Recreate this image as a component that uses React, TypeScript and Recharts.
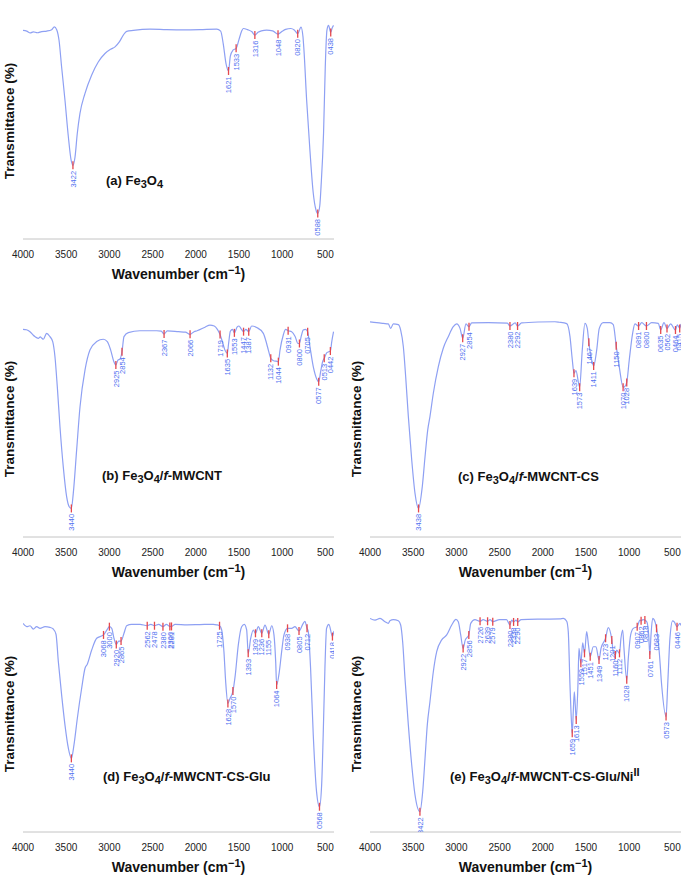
import React from 'react';
import { ComposedChart, Line, Scatter, XAxis, YAxis } from 'recharts';

const FONT = '"Liberation Sans", Arial, Helvetica, sans-serif';
const LINE = '#8ea0f3';
const MARK = '#e5484d';
const PEAK_TEXT = '#5070f0';
const AXIS = '#c4c4c4';

type Pt = [number, number];

const xTicks = [4000, 3500, 3000, 2500, 2000, 1500, 1000, 500];

// (a) Fe3O4
const specA: Pt[] = [
  [4000, 88.4], [3957, 88.1], [3916, 87.3], [3881, 87.8], [3834, 87.4], [3784, 87.9], [3726, 88.1],
  [3668, 88.7], [3638, 89.9], [3610, 88.7], [3583, 84.2], [3553, 72.9], [3514, 58.8], [3475, 43.3],
  [3444, 33.6], [3422, 31.2], [3398, 34.7], [3372, 44.6], [3341, 53.1], [3283, 61.6], [3206, 69.4],
  [3129, 75.0], [3051, 78.6], [2985, 80.4], [2935, 81.4], [2885, 83.5], [2839, 86.4], [2800, 88.0],
  [2723, 88.4], [2530, 88.9], [2337, 88.7], [2144, 88.6], [1951, 88.7], [1758, 88.9], [1712, 88.1],
  [1682, 82.7], [1650, 74.3], [1621, 71.2], [1600, 77.5], [1570, 80.0], [1533, 80.8], [1500, 84.5],
  [1470, 88.0], [1450, 89.2], [1400, 88.7], [1350, 87.8], [1316, 86.4], [1280, 87.6], [1240, 88.2],
  [1180, 88.5], [1110, 88.2], [1048, 86.8], [1000, 88.0], [960, 88.8], [900, 89.2], [860, 88.6],
  [820, 87.0], [782, 89.8], [760, 86.0], [748, 80.2], [717, 59.0], [679, 37.7], [640, 19.4],
  [610, 12.5], [588, 10.8], [565, 14.0], [550, 22.2], [521, 44.8], [501, 73.0], [482, 88.4],
  [463, 90.5], [438, 87.5], [420, 89.5], [405, 90.5],
];
const peaksA = [3422, 1621, 1533, 1316, 1048, 820, 588, 438];

// (b) Fe3O4/f-MWCNT
const specB: Pt[] = [
  [4000, 88.0], [3960, 87.8], [3919, 87.0], [3880, 85.5], [3861, 84.9], [3823, 84.2], [3800, 84.8],
  [3784, 84.3], [3765, 83.8], [3726, 86.3], [3688, 84.9], [3656, 82.8], [3630, 76.4], [3603, 63.7],
  [3572, 46.7], [3534, 29.8], [3495, 17.1], [3465, 12.8], [3440, 12.1], [3418, 18.5], [3379, 36.9],
  [3340, 55.2], [3282, 70.8], [3225, 79.2], [3147, 82.8], [3070, 83.8], [3024, 82.8], [2985, 79.2],
  [2950, 74.5], [2925, 72.9], [2900, 75.0], [2880, 75.3], [2854, 78.5], [2831, 84.9], [2781, 86.6],
  [2646, 87.4], [2453, 87.4], [2400, 87.2], [2367, 86.0], [2330, 87.3], [2200, 87.0], [2120, 86.8],
  [2066, 85.9], [2020, 87.0], [1985, 87.4], [1893, 88.9], [1836, 89.8], [1786, 89.4], [1750, 88.0],
  [1719, 85.8], [1690, 82.5], [1660, 79.0], [1635, 77.8], [1620, 82.0], [1600, 87.2], [1575, 88.0],
  [1553, 86.5], [1520, 89.0], [1500, 89.4], [1475, 88.2], [1447, 87.0], [1420, 88.0], [1387, 87.0],
  [1353, 89.4], [1295, 88.8], [1218, 86.3], [1180, 82.0], [1160, 79.2], [1132, 75.7], [1100, 74.7],
  [1070, 74.5], [1044, 74.3], [1025, 79.2], [987, 85.6], [960, 88.0], [931, 87.4], [890, 87.0],
  [850, 85.0], [817, 82.0], [800, 82.0], [780, 85.0], [756, 87.7], [730, 88.0], [705, 87.0],
  [678, 80.6], [640, 72.2], [600, 67.0], [577, 65.8], [555, 70.0], [530, 74.5], [513, 75.7],
  [485, 78.0], [460, 78.5], [442, 78.8], [425, 83.0], [405, 87.0],
];
const peaksB = [3440, 2925, 2854, 2367, 2066, 1719, 1635, 1553, 1447, 1387, 1132, 1044, 931, 800, 705, 577, 513, 442];

// (c) Fe3O4/f-MWCNT-CS
const specC: Pt[] = [
  [4000, 91.2], [3923, 90.8], [3846, 90.5], [3788, 90.3], [3761, 88.4], [3730, 90.3], [3672, 90.0],
  [3645, 87.7], [3614, 80.6], [3587, 67.9], [3556, 51.0], [3517, 32.6], [3479, 18.5], [3438, 12.1],
  [3395, 21.3], [3363, 34.0], [3332, 45.3], [3306, 51.0], [3267, 60.9], [3209, 72.2], [3152, 80.0],
  [3094, 84.9], [3036, 89.1], [2997, 90.3], [2958, 88.4], [2927, 84.2], [2889, 90.3], [2854, 89.1],
  [2823, 90.7], [2630, 90.8], [2410, 90.6], [2380, 89.4], [2320, 90.7], [2292, 89.4], [2245, 90.7],
  [2050, 91.1], [1860, 91.2], [1810, 91.0], [1723, 90.4], [1685, 84.9], [1658, 75.0], [1639, 69.4],
  [1616, 70.5], [1573, 63.5], [1543, 79.2], [1512, 90.5], [1485, 88.4], [1467, 82.5], [1440, 76.0],
  [1411, 72.5], [1376, 79.2], [1346, 88.4], [1300, 90.8], [1222, 90.8], [1184, 90.0], [1150, 81.0],
  [1115, 72.2], [1070, 63.5], [1050, 63.8], [1028, 65.5], [999, 75.0], [960, 86.3], [933, 90.3],
  [891, 89.4], [855, 90.8], [800, 89.4], [740, 90.8], [663, 90.5], [635, 87.7], [597, 90.8],
  [562, 88.4], [520, 90.3], [464, 87.7], [443, 89.9], [415, 88.4], [400, 90.3],
];
const peaksC = [3438, 2927, 2854, 2380, 2292, 1639, 1573, 1467, 1411, 1150, 1070, 1028, 891, 800, 635, 562, 464, 415];

// (d) Fe3O4/f-MWCNT-CS-Glu
const specD: Pt[] = [
  [4000, 88.4], [3957, 87.0], [3919, 87.4], [3881, 86.0], [3842, 87.0], [3803, 86.3], [3745, 87.0],
  [3688, 86.7], [3649, 86.0], [3618, 83.8], [3591, 72.2], [3553, 58.1], [3514, 45.3], [3475, 35.5],
  [3440, 31.2], [3410, 36.9], [3371, 48.2], [3321, 60.9], [3282, 69.4], [3256, 71.1], [3205, 77.1],
  [3147, 82.1], [3068, 83.5], [3030, 85.5], [3000, 87.0], [2973, 86.3], [2947, 82.1], [2920, 79.5],
  [2892, 80.9], [2865, 80.9], [2831, 84.2], [2800, 87.4], [2742, 88.0], [2645, 88.0], [2562, 87.4],
  [2520, 88.0], [2478, 87.4], [2430, 88.0], [2380, 87.0], [2340, 88.0], [2300, 87.1], [2281, 87.1],
  [2240, 88.0], [2100, 87.8], [1951, 87.9], [1797, 88.0], [1760, 87.8], [1725, 87.4], [1700, 85.6],
  [1674, 76.4], [1654, 63.7], [1628, 54.5], [1604, 56.6], [1570, 59.7], [1543, 66.5], [1508, 79.2],
  [1469, 87.0], [1438, 88.0], [1411, 85.6], [1393, 75.7], [1364, 82.1], [1334, 85.6], [1309, 84.2],
  [1276, 87.0], [1236, 84.2], [1199, 87.7], [1155, 83.8], [1121, 87.4], [1095, 83.5], [1075, 72.2],
  [1064, 62.3], [1033, 67.9], [1006, 76.4], [979, 83.5], [938, 86.3], [890, 86.3], [852, 87.0],
  [805, 85.2], [756, 88.4], [737, 89.3], [712, 86.3], [699, 85.2], [671, 69.4], [640, 41.1],
  [602, 17.1], [568, 10.7], [543, 19.9], [525, 41.1], [505, 69.4], [486, 86.3], [459, 88.0],
  [418, 82.8], [400, 85.2],
];
const peaksD = [3440, 3068, 3000, 2920, 2865, 2562, 2478, 2380, 2300, 2281, 1725, 1628, 1570, 1393, 1309, 1236, 1155, 1064, 938, 805, 712, 568, 418];

// (e) Fe3O4/f-MWCNT-CS-Glu/NiII
const specE: Pt[] = [
  [4000, 90.5], [3942, 89.8], [3884, 90.5], [3826, 89.1], [3788, 88.4], [3769, 89.5], [3730, 90.0],
  [3672, 89.5], [3645, 87.7], [3622, 80.6], [3595, 65.1], [3556, 45.3], [3517, 28.4], [3479, 15.7],
  [3422, 8.6], [3390, 17.1], [3363, 31.2], [3337, 45.3], [3306, 55.2], [3267, 67.9], [3228, 76.4],
  [3170, 81.4], [3112, 83.5], [3054, 87.7], [3005, 90.1], [2978, 89.1], [2950, 83.5], [2922, 77.8],
  [2897, 81.4], [2856, 83.5], [2834, 88.4], [2785, 90.0], [2726, 89.3], [2690, 90.0], [2639, 89.3],
  [2610, 90.0], [2579, 89.1], [2500, 90.0], [2420, 90.0], [2380, 87.7], [2360, 89.8], [2338, 89.0],
  [2310, 89.8], [2290, 89.0], [2250, 90.0], [2000, 90.2], [1800, 90.3], [1762, 90.5], [1723, 89.3],
  [1705, 84.9], [1685, 62.3], [1666, 45.3], [1659, 41.8], [1647, 51.0], [1635, 59.4], [1624, 53.8],
  [1613, 47.5], [1593, 62.3], [1581, 77.8], [1559, 71.5], [1538, 80.2], [1517, 75.7], [1492, 84.9],
  [1470, 79.0], [1451, 74.3], [1415, 78.5], [1384, 78.5], [1349, 72.9], [1326, 77.8], [1273, 82.1],
  [1242, 86.6], [1201, 81.4], [1184, 76.4], [1160, 75.0], [1145, 77.1], [1112, 75.7], [1095, 82.1],
  [1075, 85.6], [1060, 77.8], [1028, 64.5], [1010, 73.6], [983, 83.5], [952, 86.3], [907, 87.0],
  [875, 89.8], [862, 89.5], [840, 90.0], [818, 89.8], [795, 89.0], [774, 83.5], [761, 75.0],
  [748, 83.0], [728, 90.5], [701, 89.1], [683, 86.3], [652, 76.4], [624, 62.3], [573, 48.9],
  [554, 62.3], [528, 82.1], [497, 89.5], [478, 89.0], [446, 87.0], [412, 88.4], [400, 87.5],
];
const peaksE = [3422, 2922, 2856, 2726, 2639, 2579, 2380, 2338, 2290, 1659, 1613, 1559, 1517, 1451, 1349, 1273, 1201, 1160, 1112, 1028, 907, 862, 818, 761, 683, 573, 446];

function valueAt(spec: Pt[], w: number) {
  for (let i = 0; i < spec.length - 1; i++) {
    const [w0, t0] = spec[i];
    const [w1, t1] = spec[i + 1];
    if (w <= w0 && w >= w1) return t0 + ((t1 - t0) * (w - w0)) / (w1 - w0);
  }
  return spec[spec.length - 1][1];
}

function PeakMark(props: any) {
  const { cx, cy, payload } = props;
  if (cx == null || cy == null) return null;
  return (
    <g>
      <line x1={cx} x2={cx} y1={cy - 4} y2={cy + 4} stroke={MARK} strokeWidth={1.3} />
      <text
        transform={`translate(${cx + 2.7},${cy + 5.5}) rotate(-90)`}
        textAnchor="end"
        fontSize={7.5}
        fontFamily={FONT}
        fill={PEAK_TEXT}
      >
        {payload.label}
      </text>
    </g>
  );
}

const sub: React.CSSProperties = { fontSize: 11, position: 'relative', top: 3 };
const sup: React.CSSProperties = { fontSize: 11, position: 'relative', top: -5 };

const PL = 23; // plot left inside panel
const PT = 3; // plot top inside panel
const PW = 311;
const PH = 236;

interface PanelProps {
  left: number;
  top: number;
  spec: Pt[];
  peaks: number[];
  name: React.ReactNode;
  nameX: number;
  nameY: number;
}

function Panel({ left, top, spec, peaks, name, nameX, nameY }: PanelProps) {
  const line = spec.map(([x, y]) => ({ x, y }));
  const marks = peaks.map((w) => ({ x: w, y: valueAt(spec, w), label: String(w).padStart(4, '0') }));
  return (
    <div style={{ position: 'absolute', left, top, width: 340, height: 289 }}>
      <ComposedChart width={340} height={289} margin={{ top: PT, right: 340 - PL - PW, left: PL, bottom: 20 }}>
        <XAxis
          type="number"
          dataKey="x"
          domain={[400, 4000]}
          reversed
          allowDataOverflow
          ticks={xTicks}
          interval={0}
          tickLine={false}
          axisLine={{ stroke: AXIS }}
          tick={{ fill: '#222', fontSize: 10, fontFamily: FONT }}
          tickMargin={6}
          height={30}
        />
        <YAxis type="number" domain={[0, 100]} allowDataOverflow width={0} tick={false} tickLine={false} axisLine={{ stroke: AXIS }} />
        <Line data={line} dataKey="y" type="monotone" stroke={LINE} strokeWidth={1.2} dot={false} isAnimationActive={false} />
        <Scatter data={marks} dataKey="y" shape={(p: any) => <PeakMark {...p} />} isAnimationActive={false} />
      </ComposedChart>
      <div
        style={{
          position: 'absolute', left: PL, top: PT + PH + 27, width: PW, textAlign: 'center',
          fontFamily: FONT, fontWeight: 'bold', fontSize: 14, lineHeight: '16px', color: '#111',
        }}
      >
        Wavenumber (cm<span style={sup}>−1</span>)
      </div>
      <div
        style={{
          position: 'absolute', left: PL - 13 - 100, top: PT + 118 - 8, width: 200, height: 16,
          textAlign: 'center', transform: 'rotate(-90deg)', fontFamily: FONT, fontWeight: 'bold',
          fontSize: 13.5, lineHeight: '16px', color: '#111', whiteSpace: 'nowrap',
        }}
      >
        Transmittance (%)
      </div>
      <div
        style={{
          position: 'absolute', left: PL + nameX, top: PT + nameY - 8, whiteSpace: 'nowrap',
          fontFamily: FONT, fontWeight: 'bold', fontSize: 13, lineHeight: '16px', color: '#111',
        }}
      >
        {name}
      </div>
    </div>
  );
}

export default function App() {
  return (
    <div style={{ position: 'absolute', left: 0, top: 0, width: 685, height: 877, background: '#fff', overflow: 'hidden' }}>
      <Panel left={0} top={0} spec={specA} peaks={peaksA} nameX={83} nameY={178}
        name={<>(a) Fe<span style={sub}>3</span>O<span style={sub}>4</span></>} />
      <Panel left={0} top={298} spec={specB} peaks={peaksB} nameX={79} nameY={175}
        name={<>(b) Fe<span style={sub}>3</span>O<span style={sub}>4</span>/<i>f</i>-MWCNT</>} />
      <Panel left={347} top={298} spec={specC} peaks={peaksC} nameX={88} nameY={176}
        name={<>(c) Fe<span style={sub}>3</span>O<span style={sub}>4</span>/<i>f</i>-MWCNT-CS</>} />
      <Panel left={0} top={593} spec={specD} peaks={peaksD} nameX={80} nameY={181}
        name={<>(d) Fe<span style={sub}>3</span>O<span style={sub}>4</span>/<i>f</i>-MWCNT-CS-Glu</>} />
      <Panel left={347} top={593} spec={specE} peaks={peaksE} nameX={80} nameY={181}
        name={<>(e) Fe<span style={sub}>3</span>O<span style={sub}>4</span>/<i>f</i>-MWCNT-CS-Glu/Ni<span style={sup}>II</span></>} />
    </div>
  );
}
